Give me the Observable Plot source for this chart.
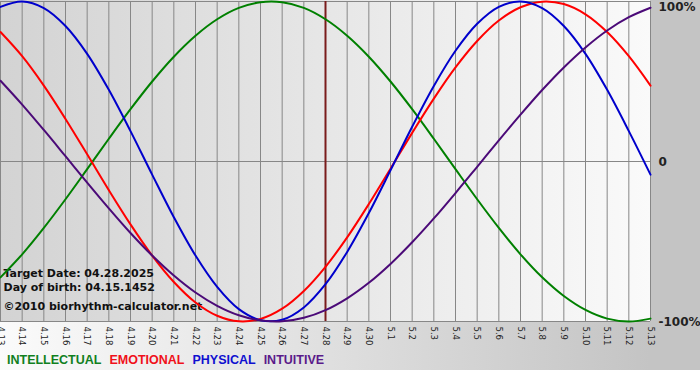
<!DOCTYPE html>
<html><head><meta charset="utf-8">
<script src="https://cdn.jsdelivr.net/npm/d3@7"></script>
<script src="https://cdn.jsdelivr.net/npm/@observablehq/plot@0.6"></script>
<style>
body{margin:0;background:#fff;}
#wrap{position:relative;width:700px;height:380px;overflow:hidden;background:#fff;}
#bgPlot{position:absolute;left:0;top:0;width:650px;height:321px;background:linear-gradient(to right,#d3d3d3,#fafafa);}
#bgRight{position:absolute;left:650px;top:0;width:50px;height:370px;background:#c4c4c4;}
#bgBottom{position:absolute;left:0;top:321px;width:650px;height:49px;background:linear-gradient(to right,#fbfbfb,#c4c4c4);}
#chart{position:absolute;left:0;top:0;}
#legend{position:absolute;left:7px;top:353px;display:flex;gap:8px;font:bold 12.5px "Liberation Sans",sans-serif;line-height:15px;}
</style></head>
<body>
<div id="wrap">
  <div id="bgPlot"></div><div id="bgRight"></div><div id="bgBottom"></div>
  <div id="chart"></div>
  <div id="legend"></div>
</div>
<script>
const dayLabels = ["4.13","4.14","4.15","4.16","4.17","4.18","4.19","4.20","4.21","4.22","4.23","4.24","4.25","4.26","4.27","4.28","4.29","4.30","5.1","5.2","5.3","5.4","5.5","5.6","5.7","5.8","5.9","5.10","5.11","5.12","5.13"];
const physical = [0.966,1.000,0.959,0.847,0.673,0.448,0.190,-0.082,-0.348,-0.588,-0.784,-0.923,-0.992,-0.989,-0.912,-0.767,-0.565,-0.322,-0.055,0.217,0.472,0.692,0.861,0.967,1.000,0.959,0.847,0.673,0.448,0.190,-0.082];
const emotional = [0.809,0.658,0.474,0.266,0.045,-0.179,-0.393,-0.588,-0.753,-0.881,-0.964,-0.999,-0.984,-0.920,-0.809,-0.658,-0.474,-0.266,-0.045,0.179,0.393,0.588,0.753,0.881,0.964,0.999,0.984,0.920,0.809,0.658,0.474];
const intellectual = [-0.724,-0.580,-0.415,-0.236,-0.048,0.142,0.327,0.500,0.655,0.786,0.889,0.960,0.995,0.995,0.960,0.889,0.786,0.655,0.500,0.327,0.142,-0.048,-0.236,-0.415,-0.580,-0.724,-0.841,-0.928,-0.982,-1.000,-0.982];
const intuitive = [0.505,0.356,0.197,0.033,-0.132,-0.293,-0.447,-0.588,-0.713,-0.819,-0.902,-0.961,-0.993,-0.999,-0.977,-0.929,-0.855,-0.758,-0.640,-0.505,-0.356,-0.197,-0.033,0.132,0.293,0.447,0.588,0.713,0.819,0.902,0.961];
const seriesNames = ["INTELLECTUAL","EMOTIONAL","PHYSICAL","INTUITIVE"];
const seriesColors = ["#008000","#ff0000","#0000cc","#4b0a78"];
const legendColors = ["#11801e","#f0101a","#1010d0","#5a1a8a"];
const yTickValues = [1,0,-1];
const yTickLabels = ["100%","0","-100%"];
const targetLabel = "4.28";
const infoLines = ["Target Date: 04.28.2025","Day of birth: 04.15.1452"];
const copyright = "©2010 biorhythm-calculator.net";

const seriesValues = [intellectual, emotional, physical, intuitive];
const dayIdx = dayLabels.map((_, i) => i);
const targetIdx = dayLabels.indexOf(targetLabel);
const rows = (k) => seriesValues[k].map((v, i) => ({day: i, value: v}));

const plot = Plot.plot({
  width: 700, height: 345,
  marginLeft: 0, marginRight: 50, marginTop: 1, marginBottom: 24,
  style: {background: "transparent", overflow: "visible"},
  x: {domain: [0, dayLabels.length - 1]},
  y: {domain: [-1, 1], axis: null},
  marks: [
    Plot.ruleX(dayIdx, {x: d => d, stroke: "#878787", strokeWidth: 1, strokeOpacity: 1}),
    Plot.ruleY(yTickValues, {y: d => d, stroke: "#878787", strokeWidth: 1}),
    Plot.axisX({ticks: dayIdx, tickFormat: i => dayLabels[i], tickRotate: 90, tickSize: 2, tickPadding: 3,
      fontSize: 8.5, fontFamily: "DejaVu Sans", fill: "#222", stroke: null, label: null}),
    Plot.text([infoLines.join("\n")], {frameAnchor: "top-left", textAnchor: "start", lineAnchor: "top",
      dx: 3, dy: 266, fontSize: 11, fontWeight: "bold", fontFamily: "DejaVu Sans", lineHeight: 1.27, fill: "#111"}),
    Plot.text([copyright], {frameAnchor: "top-left", textAnchor: "start", lineAnchor: "top",
      dx: 3, dy: 301, fontSize: 11, fontWeight: "bold", fontFamily: "DejaVu Sans", fill: "#111"}),
    Plot.ruleX([targetIdx], {x: d => d, stroke: "#7a1c1c", strokeWidth: 2}),
    ...seriesValues.map((_, k) => Plot.line(rows(k), {x: "day", y: "value", stroke: seriesColors[k],
      strokeWidth: 2, curve: "catmull-rom"})),
    Plot.text(yTickValues.slice(0, 1), {x: () => dayLabels.length - 1, y: d => d, text: (d, i) => yTickLabels[i],
      textAnchor: "start", dx: 8, dy: 6, fontSize: 12, fontWeight: "bold", fontFamily: "DejaVu Sans", fill: "#222"}),
    Plot.text(yTickValues.slice(1), {x: () => dayLabels.length - 1, y: d => d, text: (d, i) => yTickLabels[i + 1],
      textAnchor: "start", dx: 8, dy: 1, fontSize: 12, fontWeight: "bold", fontFamily: "DejaVu Sans", fill: "#222"})
  ]
});
document.getElementById("chart").appendChild(plot);

const legend = document.getElementById("legend");
seriesNames.forEach((n, k) => {
  const s = document.createElement("span");
  s.textContent = n;
  s.style.color = legendColors[k];
  legend.appendChild(s);
});
</script>
</body></html>
